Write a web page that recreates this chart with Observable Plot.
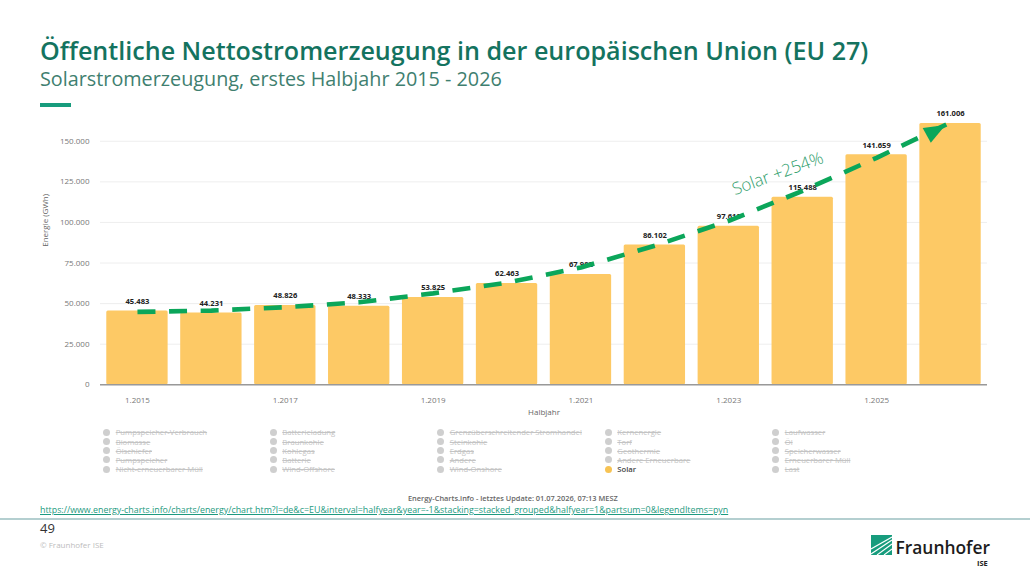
<!DOCTYPE html>
<html lang="de">
<head>
<meta charset="utf-8">
<script src="https://cdn.jsdelivr.net/npm/d3@7"></script>
<script src="https://cdn.jsdelivr.net/npm/@observablehq/plot@0.6"></script>
<style>
html,body{margin:0;padding:0;background:#fff;}
#page{position:relative;width:1030px;height:579px;overflow:hidden;font-family:"Open Sans",sans-serif;}
#page>*{position:absolute;white-space:nowrap;}
#title{left:40px;top:33px;font-size:25.1px;line-height:34px;font-weight:600;color:#14735f;}
#subtitle{left:40px;top:66px;font-size:19.8px;line-height:26px;color:#3f7f70;}
#accent{left:40px;top:103px;width:31px;height:4px;background:#179c7d;}
#chart{left:0;top:100px;}
.leg{display:flex;align-items:center;height:9px;font-size:7.7px;color:#c4c4c4;text-decoration:line-through;}
.leg i{display:inline-block;width:7px;height:7px;border-radius:50%;background:#cfcfcf;margin-right:5.5px;margin-left:-3.5px;}
.leg.on{color:#444;font-weight:600;text-decoration:none;}
.leg.on i{background:#f7c353;}
#source{left:408px;top:493px;font-size:7.4px;line-height:10px;font-weight:600;color:#666;}
#link{left:40px;top:504px;font-size:8.86px;line-height:13px;color:#1d9a80;text-decoration:underline;}
#rule{left:0;top:518px;width:1030px;height:2px;background:#b4cfd0;}
#page-no{left:40px;top:520px;font-size:13px;line-height:17px;color:#333;}
#copy{left:40px;top:539px;font-size:8px;line-height:11px;color:#bdbdbd;}
#logo{left:871px;top:535px;}
#brand{left:895.5px;top:536px;font-size:17.4px;line-height:23px;font-weight:600;color:#1c1c1c;}
#ise{left:977px;top:558px;font-size:7.5px;line-height:10px;font-weight:700;color:#222;}
</style>
</head>
<body>
<div id="page">
  <div id="title">Öffentliche Nettostromerzeugung in der europäischen Union (EU 27)</div>
  <div id="subtitle">Solarstromerzeugung, erstes Halbjahr 2015 - 2026</div>
  <div id="accent"></div>
  <div id="chart"></div>
  <div id="source">Energy-Charts.info - letztes Update: 01.07.2026, 07:13 MESZ</div>
  <div id="link">https://www.energy-charts.info/charts/energy/chart.htm?l=de&amp;c=EU&amp;interval=halfyear&amp;year=-1&amp;stacking=stacked_grouped&amp;halfyear=1&amp;partsum=0&amp;legendItems=pyn</div>
  <div id="rule"></div>
  <div id="page-no">49</div>
  <div id="copy">© Fraunhofer ISE</div>
  <svg id="logo" width="21" height="20" viewBox="0 0 21 20">
    <rect width="21" height="20" fill="#179c7d"/>
    <path d="M0 19 L21 5 M0 14 L21 2 M6 20 L21 9 M13 20 L21 14" stroke="#fff" stroke-width="1.1" fill="none"/>
  </svg>
  <div id="brand">Fraunhofer</div>
  <div id="ise">ISE</div>
</div>
<script>
const halfyears = ["1.2015","1.2016","1.2017","1.2018","1.2019","1.2020","1.2021","1.2022","1.2023","1.2024","1.2025","1.2026"];
const solar = [45483,44231,48826,48333,53825,62463,67982,86102,97610,115488,141659,161006];
const trend = [44900,45700,47800,50800,56300,62900,72300,85700,101000,119500,139800,161600];
const xTicks = ["1.2015","1.2017","1.2019","1.2021","1.2023","1.2025"];
const yTicks = [0,25000,50000,75000,100000,125000,150000];
const legendColumns = [
  ["Pumpspeicher-Verbrauch","Biomasse","Ölschiefer","Pumpspeicher","Nicht-erneuerbarer Müll"],
  ["Batterieladung","Braunkohle","Kohlegas","Batterie","Wind-Offshore"],
  ["Grenzüberschreitender Stromhandel","Steinkohle","Erdgas","Andere","Wind-Onshore"],
  ["Kernenergie","Torf","Geothermie","Andere Erneuerbare","Solar"],
  ["Laufwasser","Öl","Speicherwasser","Erneuerbarer Müll","Last"]
];
const legendX = [106.7,273.3,440.7,608.3,775.7];
const legendY = [427.5,437,446,455,464.5];

const rows = halfyears.map((h,i)=>({h, v:solar[i], t:trend[i]}));
const de = v => v.toLocaleString("de-DE");
const arrowColor = "#0ba65a";
const arrowHead = {draw(ctx,l){ctx.moveTo(0,-l);ctx.lineTo(-l*0.39,0);ctx.lineTo(l*0.39,0);ctx.closePath();}};

const chart = Plot.plot({
  width:1030, height:320,
  marginLeft:100, marginRight:43, marginTop:8.3, marginBottom:35.7,
  style:{fontFamily:"'Open Sans',sans-serif", background:"transparent"},
  x:{domain:halfyears, paddingInner:0.17, paddingOuter:0.085, round:false},
  y:{domain:[0,170000]},
  marks:[
    Plot.gridY(yTicks,{stroke:"#000",strokeOpacity:0.07}),
    Plot.axisY({ticks:yTicks, tickFormat:de, tickSize:0, tickPadding:11, fontSize:8, letterSpacing:"0.8px", color:"#777", label:null}),
    Plot.axisX({ticks:xTicks, tickSize:0, tickPadding:13, fontSize:8, color:"#777", letterSpacing:"0.8px", label:null}),
    Plot.text(["Energie (GWh)"],{frameAnchor:"left",dx:-55,rotate:-90,fontSize:8,fill:"#666"}),
    Plot.text(["Halbjahr"],{frameAnchor:"bottom",dy:30,fontSize:8,fill:"#666"}),
    Plot.barY(rows,{x:"h",y:"v",fill:"#fdc965",rx:1.5}),
    Plot.ruleY([0],{stroke:"#999",strokeWidth:1.4}),
    Plot.text(rows,{x:"h",y:"v",text:d=>de(d.v),dy:-9.5,fontSize:7.6,fontWeight:700,fill:"#222"}),
    Plot.line(rows,{x:"h",y:"t",stroke:arrowColor,strokeWidth:4.6,strokeDasharray:"18 13.6",strokeLinecap:"butt",curve:"linear"}),
    Plot.vector(rows.slice(-1),{x:"h",y:"t",shape:arrowHead,length:21.5,rotate:61,anchor:"end",fill:arrowColor,stroke:"none",dx:-5,dy:2.5}),
    Plot.text(["Solar +254%"],{x:()=>"1.2024",y:()=>130000,text:d=>d,rotate:-20,dx:-25,fontSize:17,fontWeight:300,fill:"#2f9e6c"})
  ]
});
document.getElementById("chart").appendChild(chart);

const page = document.getElementById("page");
legendColumns.forEach((col,c)=>col.forEach((name,r)=>{
  const el = document.createElement("div");
  el.className = "leg" + (name==="Solar" ? " on" : "");
  el.style.left = legendX[c]+"px";
  el.style.top = legendY[r]+"px";
  el.innerHTML = "<i></i>";
  el.appendChild(document.createTextNode(name));
  page.appendChild(el);
}));
</script>
</body>
</html>
